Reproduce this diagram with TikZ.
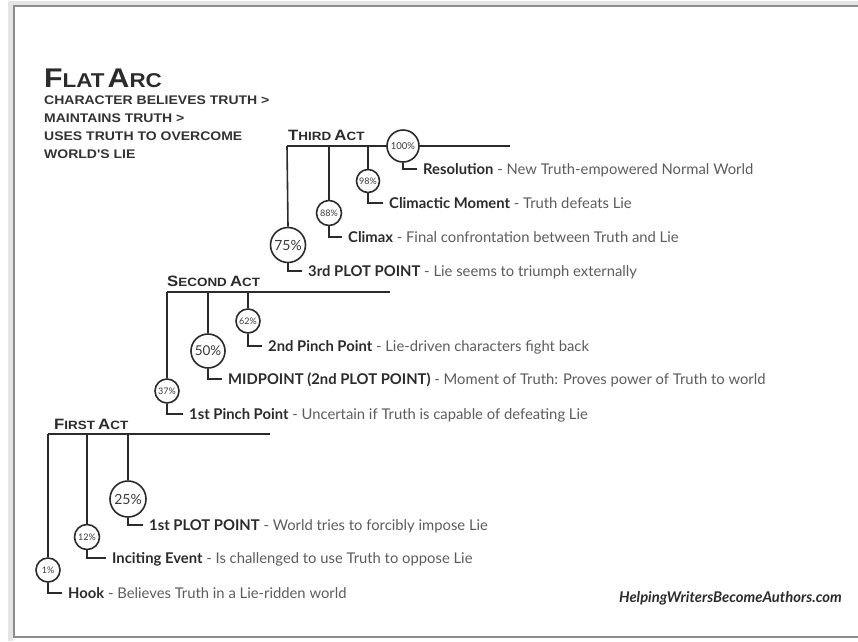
\documentclass[tikz,border=0pt]{standalone}
\usepackage{fontspec}
\setmainfont{Lato}
\newfontfamily\capsfont{Liberation Sans}[FakeStretch=1.12]
\usepackage{xcolor}
\usepackage{tikz}

\definecolor{inkline}{HTML}{2B2B2B}
\definecolor{desctext}{HTML}{5C5C5C}
\definecolor{pcttext}{HTML}{3A3A3A}

\newcommand{\capword}[4]{{\fontsize{#1}{#1}\selectfont #3}{\fontsize{#2}{#2}\selectfont #4}}
\newcommand{\beat}[2]{\textbf{#1} {\color{desctext}- #2}}
\newcommand{\pcsize}[1]{\fontsize{#1}{#1}\selectfont}

\begin{document}
\begin{tikzpicture}[x=1pt,y=-1pt]
\tikzstyle{every node}=[font=\fontsize{14.8}{16}\selectfont, text=inkline]
\tikzstyle{pct}=[circle, draw=inkline, line width=1.6pt, fill=white, inner sep=0pt, text=pcttext]
\tikzstyle{beatlabel}=[anchor=west, inner xsep=6pt, inner ysep=0pt, text height=11.5pt, text depth=1pt]
\tikzstyle{actname}=[anchor=base west, inner sep=0pt, font=\capsfont\bfseries, text=inkline]
\tikzstyle{subline}=[anchor=base west, inner sep=0pt, font=\capsfont\bfseries\fontsize{12.5}{14}\selectfont, text=black!80]
\tikzstyle{actline}=[line width=2.8pt, draw=inkline]
\tikzstyle{stem}=[line width=1.6pt, draw=inkline]
\useasboundingbox (0,0) rectangle (858,641);

% frame
\draw[line width=5pt, color=black!10] (858,3) -- (10,3) -- (10,641);
\draw[line width=2pt, color=black!45] (858,6) -- (14,6) -- (14,637) -- (858,637);

% title
\node[actname] (title) at (44,87) {\capword{27}{20}{F}{LAT} \capword{27}{20}{A}{RC}};
\node[subline] (sub1) at (44,104) {CHARACTER BELIEVES TRUTH >};
\node[subline] (sub2) at (44,122) {MAINTAINS TRUTH >};
\node[subline] (sub3) at (44,140) {USES TRUTH TO OVERCOME};
\node[subline] (sub4) at (44,158) {WORLD'S LIE};

% third act
\coordinate (act3) at (287,146);
\coordinate (act3end) at (510,146);
\draw[actline] (act3) -- (act3end);
\node[actname] (act3name) at (288,140) {\capword{15}{12}{T}{HIRD} \capword{15}{12}{A}{CT}};
\node[pct, minimum size=32pt, font=\pcsize{9.5}] (p100) at (403,146) {100\%};
\node[pct, minimum size=23pt, font=\pcsize{9}] (p98) at (368,181) {98\%};
\node[pct, minimum size=25pt, font=\pcsize{9}] (p88) at (329,213) {88\%};
\node[pct, minimum size=35pt, font=\pcsize{14}] (p75) at (288,245) {75\%};
\draw[stem] (p98 |- act3) -- (p98.north);
\draw[stem] (p88 |- act3) -- (p88.north);
\draw[stem] (act3) -- (p75.north);
\node[beatlabel] (b100) at (417,169) {\beat{Resolution}{New Truth-empowered Normal World}};
\node[beatlabel] (b98) at (383,203) {\beat{Climactic Moment}{Truth defeats Lie}};
\node[beatlabel] (b88) at (342,237) {\beat{Climax}{Final confrontation between Truth and Lie}};
\node[beatlabel] (b75) at (302,271) {\beat{3rd PLOT POINT}{Lie seems to triumph externally}};
\draw[stem] (p100.south) |- (b100.west);
\draw[stem] (p98.south) |- (b98.west);
\draw[stem] (p88.south) |- (b88.west);
\draw[stem] (p75.south) |- (b75.west);

% second act
\coordinate (act2) at (167,292);
\coordinate (act2end) at (390,292);
\draw[actline] (act2) -- (act2end);
\node[actname] (act2name) at (167,286) {\capword{15}{12}{S}{ECOND} \capword{15}{12}{A}{CT}};
\node[pct, minimum size=24pt, font=\pcsize{9}] (p62) at (248,321) {62\%};
\node[pct, minimum size=34pt, font=\pcsize{13.5}] (p50) at (208,351) {50\%};
\node[pct, minimum size=24pt, font=\pcsize{9}] (p37) at (167,391) {37\%};
\draw[stem] (p62 |- act2) -- (p62.north);
\draw[stem] (p50 |- act2) -- (p50.north);
\draw[stem] (act2) -- (p37.north);
\node[beatlabel] (b62) at (262,346) {\beat{2nd Pinch Point}{Lie-driven characters fight back}};
\node[beatlabel] (b50) at (222,379) {\beat{MIDPOINT (2nd PLOT POINT)}{Moment of Truth: Proves power of Truth to world}};
\node[beatlabel] (b37) at (183,414) {\beat{1st Pinch Point}{Uncertain if Truth is capable of defeating Lie}};
\draw[stem] (p62.south) |- (b62.west);
\draw[stem] (p50.south) |- (b50.west);
\draw[stem] (p37.south) |- (b37.west);

% first act
\coordinate (act1) at (48,434);
\coordinate (act1end) at (270,434);
\draw[actline] (act1) -- (act1end);
\node[actname] (act1name) at (54,429) {\capword{15}{12}{F}{IRST} \capword{15}{12}{A}{CT}};
\node[pct, minimum size=36pt, font=\pcsize{14}] (p25) at (128,499) {25\%};
\node[pct, minimum size=25pt, font=\pcsize{9}] (p12) at (87,537) {12\%};
\node[pct, minimum size=24pt, font=\pcsize{9}] (p1) at (48,570) {1\%};
\draw[stem] (p25 |- act1) -- (p25.north);
\draw[stem] (p12 |- act1) -- (p12.north);
\draw[stem] (act1) -- (p1.north);
\node[beatlabel] (b25) at (143,525) {\beat{1st PLOT POINT}{World tries to forcibly impose Lie}};
\node[beatlabel] (b12) at (106,558) {\beat{Inciting Event}{Is challenged to use Truth to oppose Lie}};
\node[beatlabel] (b1) at (62,593) {\beat{Hook}{Believes Truth in a Lie-ridden world}};
\draw[stem] (p25.south) |- (b25.west);
\draw[stem] (p12.south) |- (b12.west);
\draw[stem] (p1.south) |- (b1.west);

% site
\node[anchor=base east, inner sep=0pt, font=\fontsize{14.8}{16}\selectfont\bfseries\itshape] (site) at (842,602) {HelpingWritersBecomeAuthors.com};
\end{tikzpicture}
\end{document}
